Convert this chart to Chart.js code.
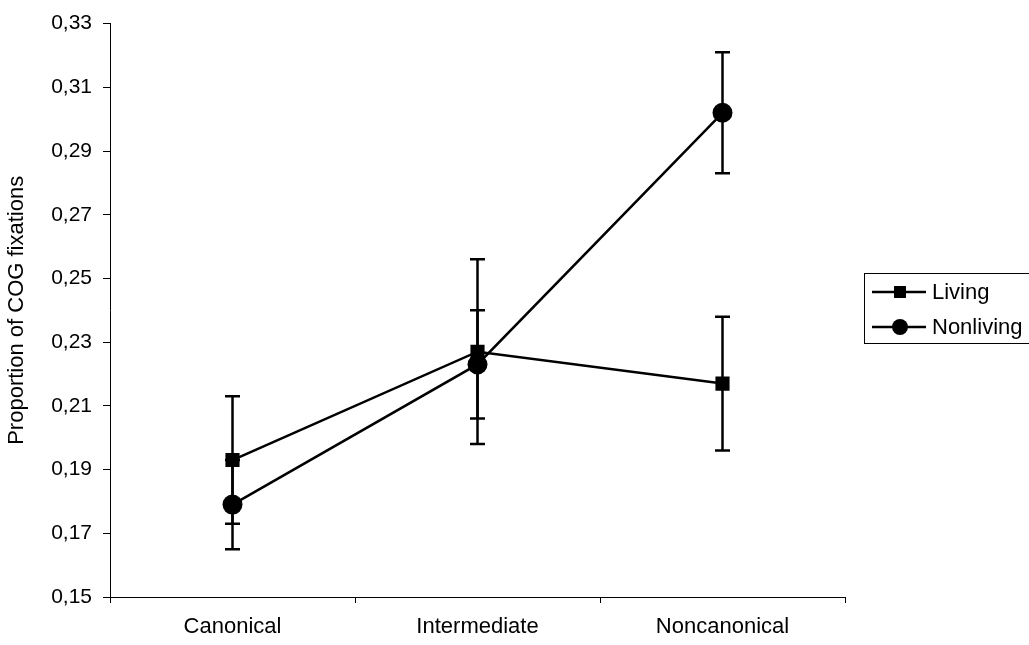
<!DOCTYPE html>
<html><head><meta charset="utf-8">
<script src="https://cdn.jsdelivr.net/npm/chart.js@4"></script>
<style>html,body{margin:0;padding:0;background:#fff;}#wrap{width:1029px;height:645px;position:relative;}</style>
</head><body><div id="wrap"><canvas id="c"></canvas></div>
<script>
const categories = ['Canonical', 'Intermediate', 'Noncanonical'];
const livingValues = [0.193, 0.227, 0.217];
const livingErrors = [0.020, 0.029, 0.021];
const nonlivingValues = [0.179, 0.223, 0.302];
const nonlivingErrors = [0.014, 0.017, 0.019];
const yTicks = [0.15, 0.17, 0.19, 0.21, 0.23, 0.25, 0.27, 0.29, 0.31, 0.33];
const seriesNames = ['Living', 'Nonliving'];
const yTitle = 'Proportion of COG fixations';

const FONT = '"Liberation Sans", Arial, Helvetica, sans-serif';

const errorBars = {
  id: 'errorBars',
  beforeDatasetsDraw(chart) {
    const ctx = chart.ctx, y = chart.scales.y;
    chart.data.datasets.forEach((ds, di) => {
      const meta = chart.getDatasetMeta(di);
      ds.errors.forEach((e, i) => {
        const px = meta.data[i].x;
        const top = y.getPixelForValue(ds.data[i] + e);
        const bot = y.getPixelForValue(ds.data[i] - e);
        ctx.save();
        ctx.strokeStyle = '#000';
        ctx.lineWidth = 2.5;
        ctx.beginPath();
        ctx.moveTo(px, top); ctx.lineTo(px, bot);
        ctx.moveTo(px - 7.5, top); ctx.lineTo(px + 7.5, top);
        ctx.moveTo(px - 7.5, bot); ctx.lineTo(px + 7.5, bot);
        ctx.stroke();
        ctx.restore();
      });
    });
  }
};

const boxLegend = {
  id: 'boxLegend',
  afterDraw(chart) {
    const ctx = chart.ctx;
    ctx.save();
    ctx.strokeStyle = '#000';
    ctx.lineWidth = 1;
    ctx.strokeRect(864.5, 273.5, 180, 70);
    const rows = [292, 327];
    chart.data.datasets.forEach((ds, i) => {
      const yy = rows[i];
      ctx.strokeStyle = '#000';
      ctx.lineWidth = 2.5;
      ctx.beginPath();
      ctx.moveTo(872, yy); ctx.lineTo(926, yy);
      ctx.stroke();
      ctx.fillStyle = '#000';
      if (ds.pointStyle === 'rect') {
        ctx.fillRect(894, yy - 6, 12, 12);
      } else {
        ctx.beginPath(); ctx.arc(900, yy, 8, 0, Math.PI * 2); ctx.fill();
      }
      ctx.font = '22px ' + FONT;
      ctx.textBaseline = 'middle';
      ctx.textAlign = 'left';
      ctx.fillText(ds.label, 932, yy + 1);
    });
    ctx.restore();
  }
};

new Chart(document.getElementById('c'), {
  type: 'line',
  data: {
    labels: categories,
    datasets: [
      { label: seriesNames[0], data: livingValues, errors: livingErrors,
        borderColor: '#000', backgroundColor: '#000', borderWidth: 2.5,
        pointStyle: 'rect', pointRadius: 10, pointBorderWidth: 0, tension: 0 },
      { label: seriesNames[1], data: nonlivingValues, errors: nonlivingErrors,
        borderColor: '#000', backgroundColor: '#000', borderWidth: 2.5,
        pointStyle: 'circle', pointRadius: 10, pointBorderWidth: 0, tension: 0 }
    ]
  },
  options: {
    responsive: true, maintainAspectRatio: false, animation: false,
    layout: { padding: { top: 20, right: 184, left: 0, bottom: 0 } },
    plugins: { legend: { display: false }, tooltip: { enabled: false } },
    scales: {
      x: {
        type: 'category', offset: true,
        grid: { display: true, offset: true, drawOnChartArea: false, drawTicks: true, tickLength: 6, color: '#000', lineWidth: 1 },
        border: { display: true, color: '#000', width: 1 },
        ticks: { color: '#000', font: { family: FONT, size: 22 }, padding: 11, maxRotation: 0, autoSkip: false },
        afterFit(s) { s.height = 48; }
      },
      y: {
        min: 0.15, max: 0.33,
        afterBuildTicks(s) { s.ticks = yTicks.map(v => ({ value: v })); },
        grid: { display: true, drawOnChartArea: false, drawTicks: true, tickLength: 7, color: '#000', lineWidth: 1 },
        border: { display: true, color: '#000', width: 1 },
        ticks: { color: '#000', font: { family: FONT, size: 21 }, padding: 11,
          callback: v => Number(v).toFixed(2).replace('.', ',') },
        title: { display: true, text: yTitle, color: '#000', font: { family: FONT, size: 22 }, padding: { top: 4, bottom: 0 } },
        afterFit(s) { s.width = 110; }
      }
    }
  },
  plugins: [errorBars, boxLegend]
});
</script>
</body></html>
